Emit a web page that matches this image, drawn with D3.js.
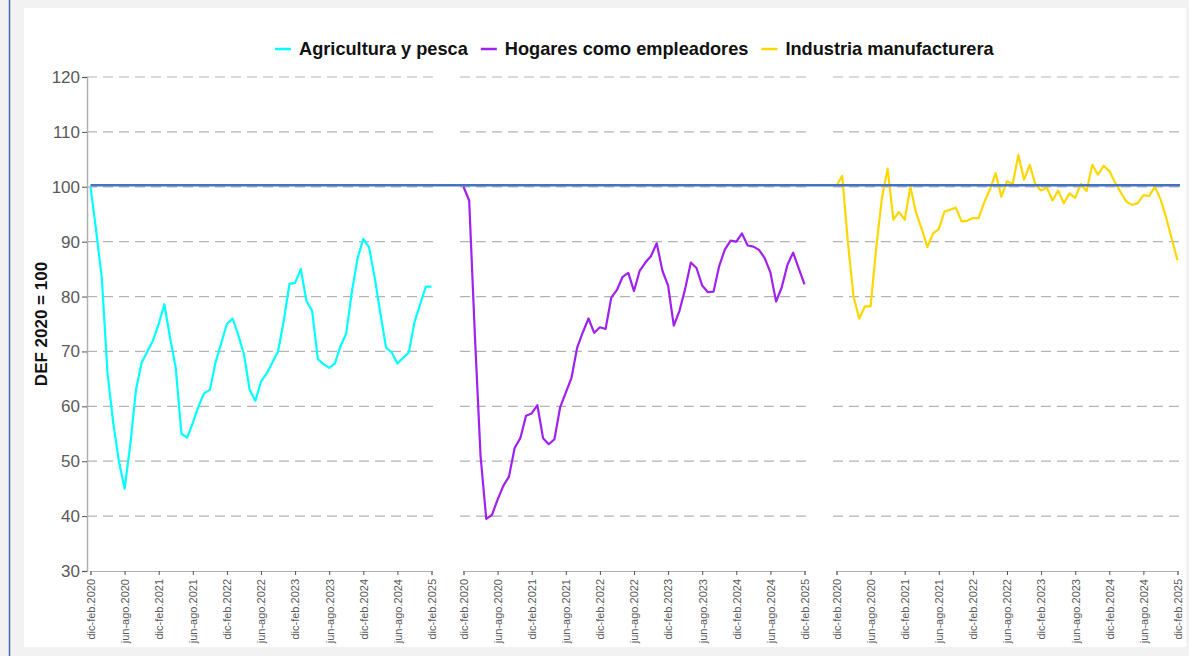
<!DOCTYPE html>
<html>
<head>
<meta charset="utf-8">
<script src="https://cdn.jsdelivr.net/npm/d3@7/dist/d3.min.js"></script>
<style>
  body { margin: 0; background: #f2f2f2; font-family: "Liberation Sans", Arial, sans-serif; }
  svg { display: block; }
</style>
</head>
<body>
<script>
// series names and colours
var seriesNames = ['Agricultura y pesca', 'Hogares como empleadores', 'Industria manufacturera'];
var seriesColors = ['#00ffff', '#a020f0', '#ffd700'];

// x tick labels (one every 6 months, 61 monthly rolling quarters)
var tickLabels = ['dic-feb.2020', 'jun-ago.2020', 'dic-feb.2021', 'jun-ago.2021', 'dic-feb.2022',
  'jun-ago.2022', 'dic-feb.2023', 'jun-ago.2023', 'dic-feb.2024', 'jun-ago.2024', 'dic-feb.2025'];

var yTicks = [30, 40, 50, 60, 70, 80, 90, 100, 110, 120];
var baseValue = 100.3;

var agricultura = [100, 92, 83.2, 66, 57, 50, 45, 53, 63, 68, 70, 72, 75, 78.6, 72.5, 67, 55, 54.3, 57, 60,
  62.4, 63, 68, 71.5, 75, 76, 73, 69.5, 63, 61, 64.5, 66, 68, 70, 75.6, 82.3, 82.5, 85, 79.2, 77.4,
  68.6, 67.7, 67, 67.8, 71, 73.3, 81, 87, 90.5, 89, 83.5, 77, 70.7, 69.8, 67.8, 68.8, 69.8, 75.3, 78.6, 81.8, 81.8];

var hogares = [100, 97.5, 73, 51, 39.5, 40.2, 43, 45.5, 47.2, 52.4, 54.2, 58.3, 58.7, 60.2, 54.2, 53.1, 54, 59.8, 62.5, 65.2,
  70.7, 73.5, 76, 73.4, 74.4, 74.1, 79.8, 81.2, 83.6, 84.3, 81, 84.7, 86.2, 87.4, 89.7, 84.7, 82, 74.7, 77.4, 81.4,
  86.2, 85.2, 82, 80.8, 80.9, 85.6, 88.6, 90.2, 90, 91.5, 89.3, 89.1, 88.5, 87, 84.4, 79.1, 81.7, 85.8, 88, 85.1, 82.2];

var industria = [100.2, 102, 90, 80, 76, 78.2, 78.2, 89, 98, 103.3, 94, 95.4, 94, 100, 95.3, 92.3, 89, 91.5, 92.3, 95.5,
  95.8, 96.2, 93.7, 93.8, 94.3, 94.3, 97.2, 99.5, 102.5, 98.2, 101, 100.5, 105.8, 101.3, 104, 100.4, 99.3, 99.9, 97.5, 99.3,
  97, 98.8, 98, 100.5, 99.2, 104, 102.2, 103.8, 102.9, 100.8, 99, 97.3, 96.7, 97, 98.5, 98.3, 100, 97.8, 94.4, 90.5, 86.6];

var seriesValues = [agricultura, hogares, industria];

var W = 1189, H = 656;

var svg = d3.select('body').append('svg')
  .attr('width', W)
  .attr('height', H);

// page frame
svg.append('rect').attr('x', 0).attr('y', 0).attr('width', W).attr('height', H).attr('fill', '#f2f2f2');
svg.append('line').attr('x1', 9.5).attr('x2', 9.5).attr('y1', 0).attr('y2', H)
  .attr('stroke', '#4a66b0').attr('stroke-width', 1.5);
svg.append('rect').attr('x', 24).attr('y', 8).attr('width', 1162).attr('height', 639).attr('fill', '#fff');

var y = d3.scaleLinear().domain([30, 120]).range([571, 77]);

var facet = d3.scaleBand()
  .domain(seriesNames)
  .range([87, 1181])
  .paddingInner(0.067);

var x = d3.scaleLinear().domain([0, 60]).range([3.5, facet.bandwidth() - 3.5]);

// panels
seriesNames.forEach(function(name, k) {
  var g = svg.append('g')
    .attr('transform', 'translate(' + facet(name) + ',0)');

  // dashed grid
  g.append('g')
    .selectAll('line')
    .data(yTicks.slice(1))
    .enter().append('line')
    .attr('x1', 0)
    .attr('x2', facet.bandwidth())
    .attr('y1', function(d) { return y(d); })
    .attr('y2', function(d) { return y(d); })
    .attr('stroke', '#b4b4b4')
    .attr('stroke-width', 1.2)
    .attr('stroke-dasharray', '10,6');

  // x axis
  var xAxis = d3.axisBottom(x)
    .tickValues(d3.range(0, 61, 6))
    .tickSize(4)
    .tickFormat(function(d, i) { return tickLabels[i]; });

  var ax = g.append('g')
    .attr('transform', 'translate(0,' + y(30) + ')')
    .call(xAxis);
  ax.select('.domain').attr('stroke', '#b0b0b0').attr('stroke-width', 1.2);
  ax.selectAll('.tick line').attr('stroke', '#555');
  ax.selectAll('.tick text')
    .attr('fill', '#595959')
    .style('font-size', '11px')
    .style('font-family', '"Liberation Sans", Arial, sans-serif')
    .attr('text-anchor', 'end')
    .attr('transform', 'rotate(-90)')
    .attr('x', -8)
    .attr('y', 0)
    .attr('dy', '0.35em');

  // series line
  g.append('path')
    .datum(seriesValues[k])
    .attr('fill', 'none')
    .attr('stroke', seriesColors[k])
    .attr('stroke-width', 2.2)
    .attr('stroke-linejoin', 'round')
    .attr('d', d3.line()
      .x(function(d, i) { return x(i); })
      .y(function(d) { return y(d); }));
});

// reference line at 100 across all panels
svg.append('line')
  .attr('x1', facet(seriesNames[0]) + x(0))
  .attr('x2', facet.range()[1] - 1)
  .attr('y1', y(baseValue))
  .attr('y2', y(baseValue))
  .attr('stroke', '#4472c4')
  .attr('stroke-width', 2.5);

// y axis
var yAxis = d3.axisLeft(y).tickValues(yTicks).tickSize(5);
var yg = svg.append('g')
  .attr('transform', 'translate(' + facet.range()[0] + ',0)')
  .call(yAxis);
yg.select('.domain').attr('stroke', '#b0b0b0').attr('stroke-width', 1.5);
yg.selectAll('.tick line').attr('stroke', '#555');
yg.selectAll('.tick text')
  .attr('fill', '#595959')
  .style('font-size', '17px')
  .style('font-family', '"Liberation Sans", Arial, sans-serif')
  .attr('x', -7);

svg.append('text')
  .attr('transform', 'translate(41,324) rotate(-90)')
  .attr('text-anchor', 'middle')
  .attr('dy', '0.35em')
  .style('font-size', '17px')
  .style('font-weight', 'bold')
  .attr('fill', '#111')
  .text('DEF 2020 = 100');

// legend
var legend = svg.append('g').attr('transform', 'translate(0,49)');
var lx = 275;
seriesNames.forEach(function(name, k) {
  legend.append('line')
    .attr('x1', lx).attr('x2', lx + 16)
    .attr('y1', 0).attr('y2', 0)
    .attr('stroke', seriesColors[k])
    .attr('stroke-width', 2.5);
  var t = legend.append('text')
    .attr('x', lx + 24)
    .attr('y', 0)
    .attr('dy', '0.35em')
    .style('font-size', '18.2px')
    .style('font-weight', 'bold')
    .attr('fill', '#111')
    .text(name);
  lx += 24 + t.node().getComputedTextLength() + 13;
});
</script>
</body>
</html>
